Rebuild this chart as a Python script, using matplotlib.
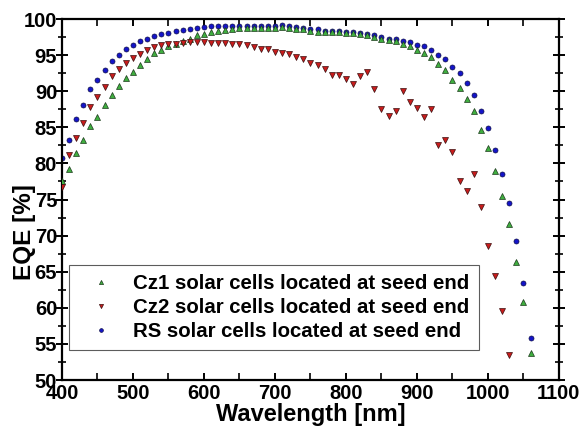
import numpy as np
import matplotlib
matplotlib.use("Agg")
import matplotlib.pyplot as plt
from matplotlib.ticker import MultipleLocator

plt.rcParams['font.family'] = ['Liberation Sans', 'DejaVu Sans']
plt.rcParams['font.weight'] = 'bold'

wl_cz1 = list(range(400, 1061, 10))
eqe_cz1 = [77.6, 79.2, 81.4, 83.2, 85.2, 86.5, 88.1, 89.5, 90.7, 91.8,
           92.7, 93.6, 94.4, 95.25, 95.7, 96.3, 96.6, 96.9, 97.3, 97.8,
           97.9, 98.2, 98.3, 98.5, 98.6, 98.7, 98.7, 98.7, 98.7, 98.7,
           98.7, 98.85, 98.7, 98.57, 98.57, 98.4, 98.24, 98.24, 98.24, 98.15,
           98.1, 98.0, 97.9, 97.8, 97.5, 97.3, 97.1, 96.9, 96.6, 96.2,
           95.7, 95.3, 94.8, 93.8, 92.9, 91.6, 90.4, 88.9, 87.2, 84.7,
           82.1, 79.0, 75.5, 71.6, 66.4, 60.8, 53.8]

wl_cz2 = list(range(400, 1031, 10))
eqe_cz2 = [76.8, 81.1, 83.5, 85.6, 87.8, 89.2, 90.6, 92.1, 93.1, 93.95,
           94.6, 95.2, 95.7, 96.16, 96.4, 96.5, 96.6, 96.7, 96.8, 96.8,
           96.8, 96.7, 96.7, 96.7, 96.6, 96.5, 96.45, 96.16, 95.9, 95.8,
           95.5, 95.3, 95.2, 94.8, 94.4, 93.95, 93.6, 93.1, 92.2, 92.2,
           91.7, 91.0, 92.1, 92.7, 90.35, 87.5, 86.6, 87.3, 90.0, 88.5,
           87.7, 86.5, 87.5, 82.55, 83.2, 81.6, 77.6, 76.2, 78.5, 73.9,
           68.6, 64.4, 59.6, 53.4]

wl_rs = list(range(400, 1061, 10))
eqe_rs = [80.7, 83.3, 86.15, 88.1, 90.3, 91.6, 93.0, 94.2, 95.0, 95.8,
          96.4, 96.9, 97.3, 97.7, 97.96, 98.0, 98.3, 98.5, 98.6, 98.75,
          98.85, 98.98, 98.98, 99.03, 99.03, 99.07, 99.03, 99.03, 99.03, 99.03,
          99.08, 99.17, 99.03, 98.85, 98.7, 98.6, 98.6, 98.4, 98.4, 98.3,
          98.24, 98.24, 98.0, 97.9, 97.8, 97.5, 97.3, 97.2, 96.9, 96.8,
          96.4, 96.2, 95.7, 95.0, 94.4, 93.3, 92.5, 91.2, 89.5, 87.3,
          84.9, 81.9, 78.5, 74.5, 69.2, 63.4, 55.8]

labels = ['Cz1 solar cells located at seed end',
          'Cz2 solar cells located at seed end',
          'RS solar cells located at seed end']

fig = plt.figure(figsize=(5.81, 4.33), dpi=100)
ax = fig.add_axes([0.1067, 0.1224, 0.8553, 0.8336])

ax.plot(wl_cz1, eqe_cz1, ls='none', marker='^', ms=4.0, mfc='#3fae3f',
        mec='#1e3a1e', mew=0.5, label=labels[0], zorder=3)
ax.plot(wl_cz2, eqe_cz2, ls='none', marker='v', ms=4.0, mfc='#c81c1c',
        mec='#3a1010', mew=0.5, label=labels[1], zorder=4)
ax.plot(wl_rs, eqe_rs, ls='none', marker='o', ms=3.6, mfc='#1414c8',
        mec='#10104a', mew=0.5, label=labels[2], zorder=2)

ax.set_xlim(400, 1100)
ax.set_ylim(50, 100)
ax.xaxis.set_major_locator(MultipleLocator(100))
ax.xaxis.set_minor_locator(MultipleLocator(50))
ax.yaxis.set_major_locator(MultipleLocator(5))
ax.yaxis.set_minor_locator(MultipleLocator(2.5))

for s in ax.spines.values():
    s.set_linewidth(1.6)

ax.tick_params(axis='both', which='major', labelsize=14.5, width=1.4,
               top=True, right=True)
ax.tick_params(axis='both', which='minor', width=1.2, top=True, right=True)
ax.tick_params(axis='x', which='both', direction='in', length=5, pad=3)
ax.tick_params(axis='y', which='major', direction='inout', length=9, pad=-1)
ax.tick_params(axis='y', which='minor', direction='inout', length=6)
for lab in ax.get_xticklabels() + ax.get_yticklabels():
    lab.set_fontweight('bold')

ax.set_xlabel('Wavelength [nm]', fontsize=17, fontweight='bold', labelpad=0)
ax.set_ylabel('EQE [%]', fontsize=17.5, fontweight='bold')
ax.yaxis.set_label_coords(-0.052, 0.41)

leg = ax.legend(loc='lower left', bbox_to_anchor=(0.014, 0.082), frameon=True,
                fancybox=False, edgecolor='#333333', fontsize=14.7,
                handlelength=2.2, handletextpad=0.5, borderpad=0.45,
                labelspacing=0.25, borderaxespad=0, markerscale=0.75)
leg.get_frame().set_linewidth(0.8)
for t in leg.get_texts():
    t.set_fontweight('bold')

fig.savefig('out.png', dpi=100)
